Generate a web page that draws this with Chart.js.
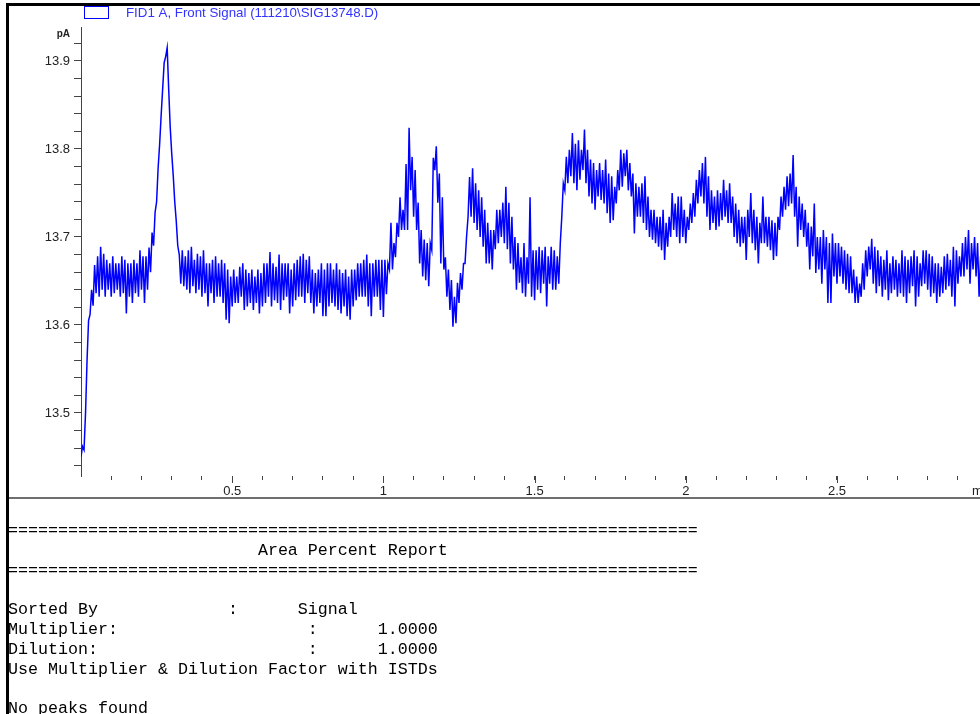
<!DOCTYPE html>
<html>
<head>
<meta charset="utf-8">
<title>FID1 A, Front Signal</title>
<script src="https://cdn.jsdelivr.net/npm/chart.js@4.4.1/dist/chart.umd.min.js"></script>
<style>
  html, body { margin: 0; padding: 0; background: #fff; overflow: hidden; }
  body { width: 980px; height: 714px; position: relative; }
  #plot { position: absolute; left: 0; top: 0; }
  .frame-top { position: absolute; left: 6px; top: 3px; width: 974px; height: 3px; background: #000; }
  .frame-left { position: absolute; left: 6px; top: 3px; width: 3px; height: 711px; background: #000; }
  .divider { position: absolute; left: 9px; top: 497px; width: 971px; height: 2px; background: #6e6e6e; }
  #report {
    position: absolute; left: 8px; top: 521px; margin: 0;
    font-family: "Liberation Mono", "Courier New", monospace;
    font-size: 16.67px; line-height: 19.8px; color: #000;
  }
</style>
</head>
<body>
<canvas id="plot" width="980" height="497"></canvas>
<div class="frame-top"></div>
<div class="frame-left"></div>
<div class="divider"></div>
<pre id="report"></pre>

<script>
// signal name shown in the legend
const signalLabel = "FID1 A, Front Signal (111210\\SIG13748.D)";

// detector readout in pA, one pair per 0.01 min:
// low sample at t, high sample at t + 0.005
const sampleStep = 0.01;
const lowerTrace = [
  13.450, 13.458, 13.560, 13.612, 13.622, 13.636, 13.632, 13.640, 13.632, 13.640,
  13.632, 13.636, 13.640, 13.632, 13.636, 13.613, 13.632, 13.625, 13.636, 13.632,
  13.640, 13.625, 13.640, 13.660, 13.690, 13.740, 13.805, 13.868, 13.905, 13.868,
  13.795, 13.740, 13.690, 13.647, 13.644, 13.640, 13.636, 13.644, 13.636, 13.640,
  13.632, 13.636, 13.621, 13.636, 13.625, 13.632, 13.632, 13.625, 13.606, 13.602,
  13.621, 13.625, 13.625, 13.632, 13.617, 13.621, 13.625, 13.617, 13.625, 13.613,
  13.621, 13.625, 13.632, 13.621, 13.628, 13.625, 13.617, 13.628, 13.632, 13.613,
  13.621, 13.628, 13.632, 13.632, 13.625, 13.636, 13.625, 13.613, 13.621, 13.625,
  13.610, 13.610, 13.621, 13.625, 13.621, 13.617, 13.613, 13.621, 13.610, 13.606,
  13.621, 13.628, 13.632, 13.632, 13.632, 13.621, 13.610, 13.632, 13.632, 13.617,
  13.609, 13.635, 13.663, 13.663, 13.677, 13.700, 13.708, 13.708, 13.708, 13.753,
  13.723, 13.708, 13.670, 13.655, 13.651, 13.644, 13.685, 13.776, 13.739, 13.670,
  13.663, 13.632, 13.617, 13.598, 13.602, 13.625, 13.640, 13.670, 13.723, 13.723,
  13.716, 13.708, 13.700, 13.689, 13.670, 13.670, 13.663, 13.686, 13.693, 13.700,
  13.693, 13.686, 13.670, 13.663, 13.640, 13.648, 13.636, 13.632, 13.647, 13.632,
  13.628, 13.640, 13.636, 13.647, 13.621, 13.647, 13.640, 13.640, 13.647, 13.723,
  13.753, 13.761, 13.769, 13.761, 13.753, 13.765, 13.776, 13.761, 13.746, 13.738,
  13.731, 13.746, 13.742, 13.738, 13.727, 13.716, 13.719, 13.738, 13.753, 13.757,
  13.769, 13.753, 13.746, 13.704, 13.723, 13.723, 13.716, 13.708, 13.700, 13.697,
  13.693, 13.689, 13.685, 13.674, 13.689, 13.700, 13.708, 13.700, 13.693, 13.700,
  13.693, 13.708, 13.716, 13.723, 13.738, 13.746, 13.738, 13.723, 13.708, 13.716,
  13.708, 13.712, 13.719, 13.723, 13.716, 13.716, 13.700, 13.693, 13.689, 13.693,
  13.674, 13.700, 13.693, 13.685, 13.670, 13.693, 13.693, 13.689, 13.685, 13.674,
  13.678, 13.708, 13.723, 13.731, 13.735, 13.738, 13.723, 13.689, 13.708, 13.700,
  13.689, 13.663, 13.678, 13.659, 13.663, 13.647, 13.663, 13.625, 13.625, 13.655,
  13.647, 13.655, 13.647, 13.640, 13.636, 13.636, 13.625, 13.625, 13.632, 13.640,
  13.655, 13.663, 13.647, 13.636, 13.644, 13.632, 13.640, 13.628, 13.636, 13.640,
  13.632, 13.636, 13.632, 13.625, 13.636, 13.644, 13.621, 13.632, 13.644, 13.647,
  13.640, 13.632, 13.636, 13.625, 13.632, 13.636, 13.640, 13.644, 13.632, 13.621,
  13.647, 13.655, 13.655, 13.663, 13.647, 13.663, 13.655, 13.632
];
const upperTrace = [
  13.462, 13.500, 13.605, 13.640, 13.668, 13.678, 13.689, 13.681, 13.674, 13.670,
  13.678, 13.670, 13.670, 13.678, 13.674, 13.670, 13.670, 13.674, 13.670, 13.685,
  13.678, 13.678, 13.688, 13.705, 13.728, 13.778, 13.838, 13.898, 13.915, 13.825,
  13.770, 13.718, 13.680, 13.685, 13.678, 13.685, 13.689, 13.674, 13.681, 13.678,
  13.685, 13.670, 13.670, 13.674, 13.678, 13.670, 13.674, 13.670, 13.663, 13.655,
  13.663, 13.655, 13.666, 13.670, 13.663, 13.659, 13.663, 13.655, 13.663, 13.659,
  13.670, 13.670, 13.683, 13.670, 13.666, 13.680, 13.670, 13.670, 13.670, 13.663,
  13.670, 13.674, 13.678, 13.681, 13.674, 13.678, 13.663, 13.659, 13.663, 13.670,
  13.663, 13.670, 13.670, 13.663, 13.670, 13.663, 13.659, 13.663, 13.655, 13.663,
  13.663, 13.670, 13.670, 13.674, 13.680, 13.670, 13.670, 13.674, 13.674, 13.674,
  13.674, 13.670, 13.716, 13.693, 13.716, 13.745, 13.731, 13.783, 13.824, 13.791,
  13.776, 13.739, 13.708, 13.697, 13.693, 13.693, 13.790, 13.803, 13.772, 13.745,
  13.677, 13.663, 13.651, 13.632, 13.648, 13.659, 13.670, 13.700, 13.768, 13.778,
  13.761, 13.753, 13.745, 13.731, 13.716, 13.708, 13.708, 13.731, 13.731, 13.739,
  13.757, 13.739, 13.723, 13.700, 13.693, 13.677, 13.693, 13.677, 13.745, 13.685,
  13.685, 13.689, 13.685, 13.689, 13.678, 13.689, 13.685, 13.678, 13.693, 13.761,
  13.791, 13.799, 13.818, 13.806, 13.810, 13.799, 13.822, 13.799, 13.788, 13.784,
  13.776, 13.784, 13.776, 13.788, 13.772, 13.769, 13.757, 13.776, 13.799, 13.795,
  13.799, 13.784, 13.772, 13.761, 13.757, 13.761, 13.769, 13.746, 13.731, 13.731,
  13.723, 13.723, 13.731, 13.716, 13.723, 13.750, 13.738, 13.746, 13.746, 13.731,
  13.723, 13.738, 13.750, 13.765, 13.776, 13.784, 13.791, 13.769, 13.753, 13.746,
  13.753, 13.750, 13.765, 13.753, 13.761, 13.746, 13.738, 13.731, 13.723, 13.723,
  13.731, 13.750, 13.731, 13.723, 13.716, 13.746, 13.723, 13.723, 13.719, 13.716,
  13.723, 13.746, 13.757, 13.769, 13.772, 13.793, 13.757, 13.746, 13.738, 13.731,
  13.716, 13.712, 13.738, 13.700, 13.700, 13.708, 13.700, 13.693, 13.704, 13.693,
  13.693, 13.689, 13.685, 13.681, 13.678, 13.663, 13.655, 13.647, 13.670, 13.685,
  13.689, 13.698, 13.689, 13.685, 13.678, 13.674, 13.685, 13.670, 13.678, 13.674,
  13.670, 13.685, 13.678, 13.674, 13.678, 13.685, 13.678, 13.670, 13.685, 13.685,
  13.681, 13.678, 13.670, 13.670, 13.666, 13.678, 13.681, 13.674, 13.689, 13.685,
  13.678, 13.693, 13.700, 13.708, 13.693, 13.700, 13.693, 13.678
];

// labelled ticks
const xTickLabels = [0.5, 1, 1.5, 2, 2.5];
const yTickLabels = [13.5, 13.6, 13.7, 13.8, 13.9];

// report block under the plot
const reportLines = [
  "=".repeat(69),
  "                         Area Percent Report",
  "=".repeat(69),
  "",
  "Sorted By             :      Signal",
  "Multiplier:                   :      1.0000",
  "Dilution:                     :      1.0000",
  "Use Multiplier & Dilution Factor with ISTDs",
  "",
  "No peaks found"
];
document.getElementById("report").textContent = reportLines.join("\n");

// build the trace: low and high sample of each pair in time order
const trace = [];
lowerTrace.forEach((lo, k) => {
  const t = k * sampleStep;
  trace.push({ x: Math.round(t * 1000) / 1000, y: lo });
  trace.push({ x: Math.round((t + sampleStep / 2) * 1000) / 1000, y: upperTrace[k] });
});

function isLabelled(v, list) {
  return list.some((l) => Math.abs(l - v) < 1e-6);
}

const axisFont = { family: "Arial, 'Liberation Sans', sans-serif", size: 13 };
const axisColor = "#444";

// legend box, unit labels and the longer major ticks on the time axis
const extras = {
  id: "extras",
  afterDraw(chart) {
    const { ctx, chartArea, scales } = chart;
    ctx.save();

    ctx.strokeStyle = axisColor;
    ctx.lineWidth = 1;
    xTickLabels.forEach((v) => {
      const px = Math.round(scales.x.getPixelForValue(v)) + 0.5;
      ctx.beginPath();
      ctx.moveTo(px, chartArea.bottom);
      ctx.lineTo(px, chartArea.bottom + 7);
      ctx.stroke();
    });

    ctx.fillStyle = "#222";
    ctx.font = "bold 10px Arial, 'Liberation Sans', sans-serif";
    ctx.textAlign = "right";
    ctx.textBaseline = "alphabetic";
    ctx.fillText("pA", 70, 37);

    ctx.font = "13px Arial, 'Liberation Sans', sans-serif";
    ctx.textAlign = "left";
    ctx.fillText("min", 972, 495);

    const ds = chart.data.datasets[0];
    ctx.strokeStyle = ds.borderColor;
    ctx.strokeRect(84.5, 6.5, 24, 12);
    ctx.fillStyle = "#3333ff";
    ctx.font = "13.3px Arial, 'Liberation Sans', sans-serif";
    ctx.textBaseline = "middle";
    ctx.fillText(ds.label, 126, 13);

    ctx.restore();
  }
};

new Chart(document.getElementById("plot"), {
  type: "line",
  data: {
    datasets: [{
      label: signalLabel,
      data: trace,
      borderColor: "#0000ff",
      borderWidth: 1.5,
      pointRadius: 0,
      tension: 0,
      fill: false
    }]
  },
  options: {
    responsive: false,
    animation: false,
    layout: { padding: { top: 27, left: 0, right: 0, bottom: 0 } },
    plugins: {
      legend: { display: false },
      tooltip: { enabled: false }
    },
    scales: {
      x: {
        type: "linear",
        min: 0,
        max: 2.973,
        border: { display: false },
        grid: {
          drawOnChartArea: false,
          tickLength: 4,
          color: axisColor,
          tickColor: (c) => (c.index === 0 ? "rgba(0,0,0,0)" : axisColor)
        },
        ticks: {
          stepSize: 0.1,
          includeBounds: false,
          autoSkip: false,
          maxRotation: 0,
          padding: 4,
          color: "#222",
          font: axisFont,
          callback: (v) => (isLabelled(v, xTickLabels) ? String(v) : "")
        },
        afterFit: (s) => { s.height = 21; }
      },
      y: {
        min: 13.4284,
        max: 13.9386,
        border: { display: true, color: axisColor, width: 1 },
        grid: { drawOnChartArea: false, tickLength: 7, color: axisColor },
        ticks: {
          stepSize: 0.02,
          includeBounds: false,
          autoSkip: false,
          padding: 4,
          color: "#222",
          font: axisFont,
          callback: (v) => (isLabelled(v, yTickLabels) ? v.toFixed(1) : "")
        },
        afterFit: (s) => { s.width = 81; }
      }
    }
  },
  plugins: [extras]
});
</script>
</body>
</html>
